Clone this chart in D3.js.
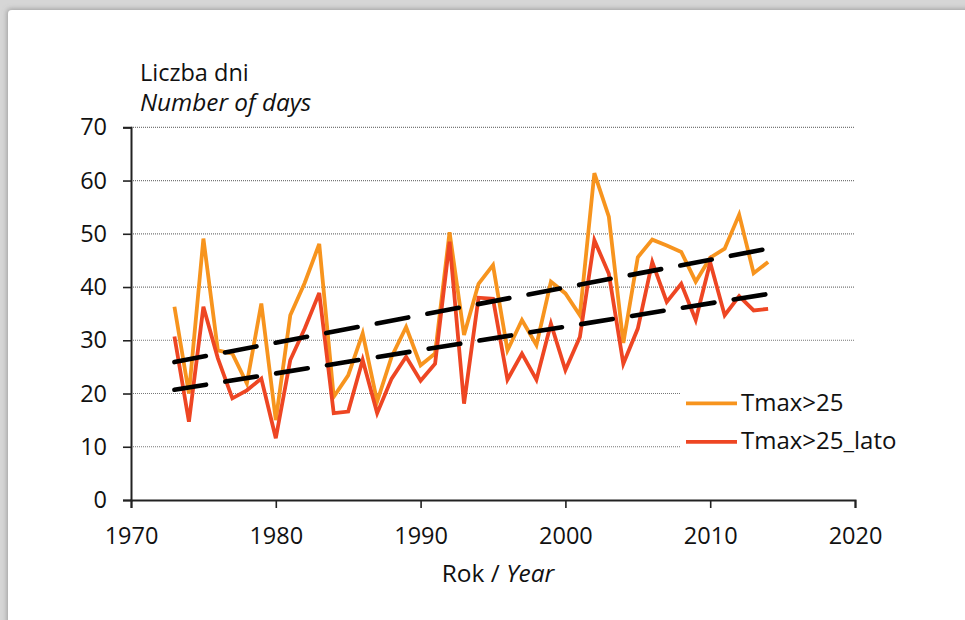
<!DOCTYPE html>
<html>
<head>
<meta charset="utf-8">
<script src="https://cdn.jsdelivr.net/npm/d3@7"></script>
<style>
  body { margin: 0; background: #fff; }
  svg { display: block; font-family: "Open Sans", sans-serif; }
</style>
</head>
<body>
<div id="chart"></div>
<script>
// data
var years = d3.range(1973, 2015)
var tmax25 = [36.3, 20, 49.1, 28.1, 27.5, 21.9, 36.9, 15, 34.7, 40.8,
              48.1, 19.4, 23.4, 31.3, 18.5, 26.9, 32.5, 25.3, 27.5, 50.3,
              31, 40.6, 44.1, 28.1, 33.8, 29.1, 41, 38.8, 34.7, 61.4,
              53.2, 29.5, 45.6, 48.9, 47.8, 46.6, 41, 45.5, 47.2, 53.6,
              42.6, 44.7]
var tmax25Lato = [30.7, 14.7, 36.3, 26.6, 19.1, 20.6, 22.8, 11.6, 26.3, 32.2,
                  38.9, 16.3, 16.6, 26.3, 16.3, 22.8, 26.9, 22.4, 25.6, 48.5,
                  18.1, 38, 37.8, 22.6, 27.5, 22.6, 33.1, 24.4, 30.6, 48.8,
                  42.5, 25.6, 32.2, 44.7, 37.2, 40.6, 33.8, 44.6, 34.7, 38.3,
                  35.6, 35.9]
// linear trend end points (1973 and 2014)
var trendYears = [1973, 2014]
var trendTmax25 = [25.9, 47.2]
var trendLato = [20.7, 38.7]

var yTicks = [0, 10, 20, 30, 40, 50, 60, 70]
var xTicks = [1970, 1980, 1990, 2000, 2010, 2020]
var seriesNames = ["Tmax>25", "Tmax>25_lato"]
var colors = ["#F7941E", "#EE4623"]

var W = 965, H = 620
var svg = d3.select("#chart").append("svg")
            .attr("width", W)
            .attr("height", H)

// page frame
var defs = svg.append("defs")
var shadow = defs.append("filter").attr("id", "shadow")
                 .attr("x", "-5%").attr("y", "-5%").attr("width", "110%").attr("height", "110%")
shadow.append("feDropShadow").attr("dx", -1).attr("dy", -1)
      .attr("stdDeviation", 2.5).attr("flood-color", "#777").attr("flood-opacity", 0.6)
svg.append("rect").attr("width", W).attr("height", H).attr("fill", "#d6d6d6")
svg.append("rect").attr("x", 8).attr("y", 10).attr("width", W + 10).attr("height", H + 10)
   .attr("rx", 4).attr("fill", "#fff").attr("filter", "url(#shadow)")

var x = d3.scaleLinear().domain([1970, 2020]).range([131, 855])
var y = d3.scaleLinear().domain([0, 70]).range([500, 127.3])

// gridlines
svg.append("g").selectAll("line")
   .data(yTicks.filter(d => d > 0))
   .join("line")
   .attr("x1", x(1970)).attr("x2", x(2020))
   .attr("y1", d => y(d)).attr("y2", d => y(d))
   .attr("stroke", "#777").attr("stroke-width", 1.2)
   .attr("stroke-dasharray", "1,1")

// axes
var yAxis = svg.append("g")
               .attr("transform", "translate(" + x(1970) + ",0)")
               .call(d3.axisLeft(y).tickValues(yTicks).tickSize(8).tickPadding(16))
var xAxis = svg.append("g")
               .attr("transform", "translate(0," + y(0) + ")")
               .call(d3.axisBottom(x).tickValues(xTicks).tickSize(8).tickPadding(19).tickFormat(d3.format("d")))
;[yAxis, xAxis].forEach(function(a) {
  a.select(".domain").attr("stroke", "#222").attr("stroke-width", 2)
  a.selectAll(".tick line").attr("stroke", "#222").attr("stroke-width", 1.6)
  a.selectAll("text").attr("fill", "#111").attr("font-size", 23.5)
   .attr("font-family", "'Open Sans', sans-serif")
})

// series
var line = d3.line().x((d, i) => x(years[i])).y(d => y(d))
;[tmax25, tmax25Lato].forEach(function(s, k) {
  svg.append("path").datum(s)
     .attr("d", line)
     .attr("fill", "none")
     .attr("stroke", colors[k])
     .attr("stroke-width", 3.8)
})

// trend lines
var trendLine = d3.line().x((d, i) => x(trendYears[i])).y(d => y(d))
;[trendTmax25, trendLato].forEach(function(t) {
  svg.append("path").datum(t)
     .attr("d", trendLine)
     .attr("fill", "none")
     .attr("stroke", "#000")
     .attr("stroke-width", 4.6)
     .attr("stroke-linecap", "round")
     .attr("stroke-dasharray", "32,19.5")
})

// legend
var legend = svg.append("g")
legend.append("rect").attr("x", 681).attr("y", 376).attr("width", 230).attr("height", 86).attr("fill", "#fff")
var item = legend.selectAll("g.item")
                 .data(seriesNames)
                 .join("g").attr("class", "item")
                 .attr("transform", (d, i) => "translate(0," + (403.3 + i * 38.5) + ")")
item.append("line").attr("x1", 686).attr("x2", 737)
    .attr("stroke", (d, i) => colors[i]).attr("stroke-width", 3.8)
item.append("text").attr("x", 741).attr("y", 7.5)
    .attr("font-size", 24).attr("fill", "#111")
    .text(d => d)

// titles
svg.append("text").attr("x", 140).attr("y", 81)
   .attr("font-size", 23.5).attr("fill", "#111").text("Liczba dni")
svg.append("text").attr("x", 140).attr("y", 111)
   .attr("font-size", 24.3).attr("font-style", "italic").attr("fill", "#111").text("Number of days")
var xTitle = svg.append("text").attr("x", 498).attr("y", 582)
                .attr("text-anchor", "middle").attr("font-size", 24.5).attr("fill", "#111")
xTitle.append("tspan").text("Rok / ")
xTitle.append("tspan").attr("font-style", "italic").text("Year")
</script>
</body>
</html>
